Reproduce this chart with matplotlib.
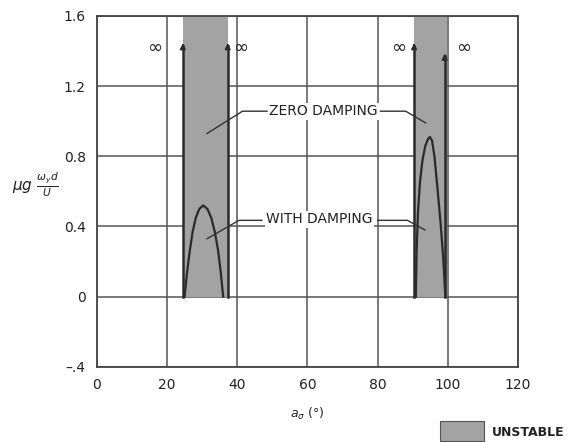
import matplotlib
matplotlib.use("Agg")
import matplotlib.pyplot as plt
from matplotlib.patches import Rectangle

# ---- data ----
x_ticks = [0, 20, 40, 60, 80, 100, 120]
y_ticks = [-0.4, 0, 0.4, 0.8, 1.2, 1.6]
y_tick_labels = ["\u2013.4", "0", "0.4", "0.8", "1.2", "1.6"]

# unstable regions (x-start, x-end), from y=0 upward
unstable_x0 = [24.5, 90.3]
unstable_x1 = [37.5, 99.7]

# zero-damping boundaries (vertical lines going to infinity)
zero_x = [24.5, 37.3, 90.4, 99.1]
zero_top = [1.43, 1.43, 1.43, 1.37]

# with-damping boundaries
wd1_x = [25.0, 25.6, 26.4, 27.3, 28.2, 29.2, 30.3, 31.5, 32.6, 33.6, 34.5, 35.3, 36.0]
wd1_y = [0.0, 0.12, 0.25, 0.37, 0.45, 0.50, 0.52, 0.50, 0.45, 0.37, 0.27, 0.14, 0.0]
wd2_x = [90.9, 91.1, 91.5, 92.1, 92.8, 93.6, 94.4, 94.9, 95.5, 96.2, 97.0, 97.9, 98.7, 99.3]
wd2_y = [0.0, 0.25, 0.48, 0.66, 0.78, 0.86, 0.90, 0.91, 0.89, 0.80, 0.63, 0.43, 0.22, 0.0]

inf_x = [16.5, 41.0, 86.0, 104.5]
inf_y = [1.42, 1.42, 1.42, 1.42]

# ---- figure ----
fig = plt.figure(figsize=(5.73, 4.42), dpi=100)
ax = fig.add_axes([0.169, 0.170, 0.735, 0.794])
ax.set_xlim(0, 120)
ax.set_ylim(-0.4, 1.6)

ax.set_xticks(x_ticks)
ax.set_yticks(y_ticks)
ax.set_yticklabels(y_tick_labels)
ax.grid(True, color="#555555", lw=1.1)
ax.set_axisbelow(True)
for s in ax.spines.values():
    s.set_color("#444444")
    s.set_linewidth(1.3)
ax.tick_params(length=0, labelsize=10, colors="#222222", pad=8)

for a, b in zip(unstable_x0, unstable_x1):
    ax.add_patch(Rectangle((a, 0), b - a, 1.6, facecolor="#a3a3a3",
                           edgecolor="none", zorder=2))

for xz, yt in zip(zero_x, zero_top):
    ax.plot([xz, xz], [0, yt], color="#2a2a2a", lw=1.8, zorder=3)
    ax.annotate("", xy=(xz, yt + 0.03), xytext=(xz, yt - 0.02),
                arrowprops=dict(arrowstyle="-|>", color="#2a2a2a", lw=1.2,
                                mutation_scale=8), zorder=3)

ax.plot(wd1_x, wd1_y, color="#2a2a2a", lw=1.6, zorder=3)
ax.plot(wd2_x, wd2_y, color="#2a2a2a", lw=1.6, zorder=3)

for xi, yi in zip(inf_x, inf_y):
    ax.text(xi, yi, "\u221e", ha="center", va="center", fontsize=13,
            color="#222222", zorder=4)

# annotations
ax.text(64.5, 1.057, "ZERO DAMPING", ha="center", va="center", fontsize=10,
        color="#222222", zorder=4,
        bbox=dict(facecolor="white", edgecolor="none", pad=1))
ax.plot([48.5, 41.5, 31.4], [1.057, 1.057, 0.93], color="#333333", lw=1.0, zorder=4)
ax.plot([80.8, 88.0, 93.7], [1.057, 1.057, 0.99], color="#333333", lw=1.0, zorder=4)

ax.text(63.5, 0.44, "WITH DAMPING", ha="center", va="center", fontsize=10,
        color="#222222", zorder=4,
        bbox=dict(facecolor="white", edgecolor="none", pad=1))
ax.plot([47.0, 40.5, 31.4], [0.435, 0.435, 0.33], color="#333333", lw=1.0, zorder=4)
ax.plot([80.0, 88.5, 93.5], [0.435, 0.435, 0.38], color="#333333", lw=1.0, zorder=4)

ax.set_xlabel("$a_\\sigma$ (\u00b0)", fontsize=9, color="#222222", labelpad=10)
ax.set_ylabel("$\\mu g\\ \\frac{\\omega_y d}{U}$", fontsize=11, rotation=0,
              color="#222222", ha="center", va="center")
ax.yaxis.set_label_coords(-0.145, 0.52)

# legend
fig.add_artist(Rectangle((440 / 573, 0.002), 44 / 573, 20 / 442,
                         transform=fig.transFigure, facecolor="#a3a3a3",
                         edgecolor="#555555", lw=0.8))
fig.text(492 / 573, 1 - 432 / 442, "UNSTABLE", fontsize=9, fontweight="bold",
         va="center", ha="left", color="#222222")

fig.savefig("out.png", dpi=100)
